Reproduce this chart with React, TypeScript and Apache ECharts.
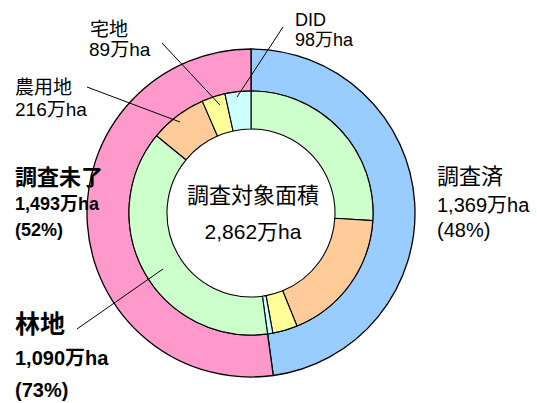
import React, { useEffect, useRef } from "react";
import * as echarts from "echarts";

const outerCategories = ["調査済", "調査未了"];
const outerValues = [1369, 1493];
const outerPercents = [48, 52];
const landUseCategories = ["林地", "農用地", "宅地", "DID"];
const surveyedValues = [744, 511, 94, 20];
const unsurveyedValues = [1090, 216, 89, 98];
const forestUnsurveyedPercent = 73;
const totalArea = 2862;
const centerTitle = "調査対象面積";
const unit = "万ha";

const outerColors = ["#99CCFF", "#FF99CC"];
const landUseColors = ["#CCFFCC", "#FFCC99", "#FFFF99", "#CCFFFF"];

const FONT = "'Liberation Sans', 'Noto Sans CJK JP', sans-serif";
const fmt = (v: number) => v.toLocaleString("en-US") + unit;

export default function App() {
  const ref = useRef<HTMLDivElement>(null);
  useEffect(() => {
    document.body.style.margin = "0";
    if (!ref.current) return;
    const chart = echarts.init(ref.current, null, { renderer: "svg" });
    const cx = 251;
    const cy = 213;

    const innerData = [
      ...surveyedValues.map((v, i) => ({
        name: landUseCategories[i] + "(調査済)",
        value: v,
        itemStyle: { color: landUseColors[i] },
      })),
      ...unsurveyedValues.map((v, i) => ({
        name: landUseCategories[i] + "(調査未了)",
        value: v,
        itemStyle: { color: landUseColors[i] },
      })),
    ];
    const outerData = outerValues.map((v, i) => ({
      name: outerCategories[i],
      value: v,
      itemStyle: { color: outerColors[i] },
    }));

    const txt = (
      text: string,
      x: number,
      y: number,
      size: number,
      bold = false,
      align: "left" | "center" = "left"
    ) => ({
      type: "text",
      silent: true,
      z: 100,
      style: {
        text,
        x,
        y,
        fill: "#000",
        font: `${bold ? "bold " : ""}${size}px ${FONT}`,
        textAlign: align,
        verticalAlign: "middle",
      },
    });
    const ln = (x1: number, y1: number, x2: number, y2: number) => ({
      type: "line",
      silent: true,
      z: 100,
      shape: { x1, y1, x2, y2 },
      style: { stroke: "#000", lineWidth: 1 },
    });

    chart.setOption({
      animation: false,
      series: [
        {
          type: "pie",
          center: [cx, cy],
          radius: [122, 164],
          startAngle: 90,
          clockwise: true,
          silent: true,
          label: { show: false },
          labelLine: { show: false },
          itemStyle: { borderColor: "#000", borderWidth: 1.3 },
          data: outerData,
        },
        {
          type: "pie",
          center: [cx, cy],
          radius: [84, 122],
          startAngle: 90,
          clockwise: true,
          silent: true,
          label: { show: false },
          labelLine: { show: false },
          itemStyle: { borderColor: "#000", borderWidth: 1.1 },
          data: innerData,
        },
      ],
      graphic: [
        ln(283, 27, 237, 97),
        ln(162, 43, 220, 105),
        ln(87, 87, 180, 122),
        ln(77, 329, 163, 269),
        txt(landUseCategories[3], 295, 19.5, 18),
        txt(fmt(unsurveyedValues[3]), 295, 40, 18),
        txt(landUseCategories[2], 90, 29.5, 19),
        txt(fmt(unsurveyedValues[2]), 89, 49, 19),
        txt(landUseCategories[1], 15, 87.5, 19),
        txt(fmt(unsurveyedValues[1]), 15, 109.5, 19),
        txt(outerCategories[0], 437, 176.5, 22),
        txt(fmt(outerValues[0]), 437, 205, 20),
        txt(`(${outerPercents[0]}%)`, 437, 230, 20),
        txt(outerCategories[1], 15, 177, 22, true),
        txt(fmt(outerValues[1]), 15, 203.5, 18, true),
        txt(`(${outerPercents[1]}%)`, 15, 230, 18, true),
        txt(landUseCategories[0], 15, 324, 25, true),
        txt(fmt(unsurveyedValues[0]), 15, 358, 20, true),
        txt(`(${forestUnsurveyedPercent}%)`, 15, 390, 20, true),
        txt(centerTitle, 253, 195, 22, false, "center"),
        txt(fmt(totalArea), 253, 231, 21, false, "center"),
      ],
    });
    return () => chart.dispose();
  }, []);
  return <div ref={ref} style={{ width: 537, height: 403 }} />;
}
